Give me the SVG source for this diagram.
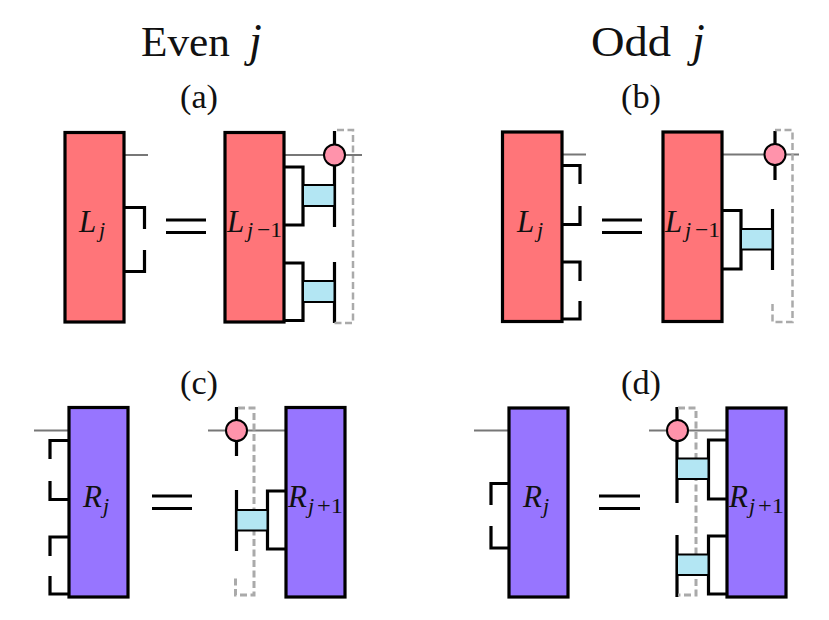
<svg xmlns="http://www.w3.org/2000/svg" width="829" height="620" viewBox="0 0 829 620">
<style>
text{font-family:"Liberation Serif",serif;fill:#111}
.t{font-size:43px}.ti{font-size:46px;font-style:italic}
.p{font-size:33px}
.m{font-size:31px;font-style:italic}
.s{font-size:22px;font-style:italic}
.n{font-size:22px}
.red{fill:#ff7579;stroke:#000;stroke-width:3.200}
.pur{fill:#9775ff;stroke:#000;stroke-width:3.200}
.blue{fill:#b3e6f3;stroke:#000;stroke-width:2}
.dot{fill:#ff93ab;stroke:#000;stroke-width:2}
.w{fill:none;stroke:#000;stroke-width:3.200}
.g{fill:none;stroke:#777;stroke-width:2}
.d{fill:none;stroke:#aaa;stroke-width:2.500;stroke-dasharray:7 3.500}
.dk{stroke-width:3}
</style>
<rect width="829" height="620" fill="#fff"/>
<g id="titles">
<text class="t" x="141" y="56" textLength="89" lengthAdjust="spacingAndGlyphs">Even</text><text class="ti" x="249" y="56">j</text>
<text class="t" x="591" y="56" textLength="80" lengthAdjust="spacingAndGlyphs">Odd</text><text class="ti" x="692" y="56">j</text>
<text class="p" x="180" y="108" textLength="38" lengthAdjust="spacingAndGlyphs">(a)</text>
<text class="p" x="621" y="108" textLength="40" lengthAdjust="spacingAndGlyphs">(b)</text>
<text class="p" x="180" y="394" textLength="38" lengthAdjust="spacingAndGlyphs">(c)</text>
<text class="p" x="621" y="394" textLength="40" lengthAdjust="spacingAndGlyphs">(d)</text>
</g>
<g id="connectors">
<path class="g" d="M124 155H148M284 155H362"/>
<path class="w" d="M124 207.500H144.500V229M144.500 250V271.500H124"/>
<path class="w" d="M284 167H303V225H284M284 263H303V320.500H284M334.500 131V227M334.500 262V323"/>
<path class="d" d="M334.500 323H353V130H336"/>
<path class="w" d="M166 220H206M166 232.500H206"/>
<path class="g" d="M562 154.500H586M722 154.500H799"/>
<path class="w" d="M562 165.500H580V184M580 206V224.500H562M562 262H580V281M580 301V319H562"/>
<path class="w" d="M722 210.500H741V269H722M772.500 209V270M775 131V180"/>
<path class="d" d="M772.500 304V322H792.500V130H775"/>
<path class="w" d="M602 220H642M602 232.500H642"/>
<path class="g" d="M34 430.500H69M208 430.500H286"/>
<path class="w" d="M69 440.500H50V459M50 481V499.500H69M69 537H50V556M50 576V594H69"/>
<path class="w" d="M286 491H267.500V549H286M236.500 407V456M236.500 490V551"/>
<path class="d dk" d="M238 408H254V595H235.500V577"/>
<path class="w" d="M152 496H192M152 508.500H192"/>
<path class="g" d="M474 430.500H509M649 430.500H727"/>
<path class="w" d="M509 483.500H491V505M491 526V548H509"/>
<path class="w" d="M727 440H708.500V499H727M727 536H708.500V594H727M677 407V503M677 535V597"/>
<path class="d dk" d="M678 408H696V595H678"/>
<path class="w" d="M599 496H640M599 508.500H640"/>
</g>
<g id="a-left"><rect class="red" x="65" y="132.500" width="59" height="189.500"/><text class="m" x="79" y="231.500">L</text><text class="s" x="99" y="237">j</text></g>
<g id="a-right"><rect class="red" x="225" y="132.500" width="59" height="189.500"/><text class="m" x="227" y="231.500">L</text><text class="s" x="247" y="237">j</text><text class="n" x="257" y="237" textLength="25" lengthAdjust="spacingAndGlyphs">−1</text></g>
<g id="a-gate1"><rect class="blue" x="303" y="185" width="31.500" height="21"/></g>
<g id="a-gate2"><rect class="blue" x="303" y="281" width="31.500" height="21"/></g>
<g id="a-dot"><circle class="dot" cx="334.500" cy="155" r="10.500"/></g>
<g id="b-left"><rect class="red" x="502.500" y="132" width="59.500" height="189.500"/><text class="m" x="517" y="231.500">L</text><text class="s" x="537" y="237">j</text></g>
<g id="b-right"><rect class="red" x="663" y="132" width="59" height="189.500"/><text class="m" x="665" y="231.500">L</text><text class="s" x="685" y="237">j</text><text class="n" x="695" y="237" textLength="25" lengthAdjust="spacingAndGlyphs">−1</text></g>
<g id="b-gate"><rect class="blue" x="741" y="229" width="31.500" height="20.500"/></g>
<g id="b-dot"><circle class="dot" cx="775" cy="154.500" r="10.500"/></g>
<g id="c-left"><rect class="pur" x="69" y="407.500" width="59" height="189.500"/><text class="m" x="83" y="507">R</text><text class="s" x="103" y="513">j</text></g>
<g id="c-right"><rect class="pur" x="286" y="407.500" width="59" height="189.500"/><text class="m" x="288" y="507">R</text><text class="s" x="308" y="513">j</text><text class="n" x="317" y="513" textLength="26" lengthAdjust="spacingAndGlyphs">+1</text></g>
<g id="c-gate"><rect class="blue" x="236.500" y="510" width="31" height="20.500"/></g>
<g id="c-dot"><circle class="dot" cx="236.500" cy="430.500" r="10.500"/></g>
<g id="d-left"><rect class="pur" x="509" y="408" width="59" height="189"/><text class="m" x="523" y="507">R</text><text class="s" x="543" y="513">j</text></g>
<g id="d-right"><rect class="pur" x="727" y="408" width="59" height="189"/><text class="m" x="729" y="507">R</text><text class="s" x="749" y="513">j</text><text class="n" x="758" y="513" textLength="26" lengthAdjust="spacingAndGlyphs">+1</text></g>
<g id="d-gate1"><rect class="blue" x="677" y="458.500" width="31.500" height="20.500"/></g>
<g id="d-gate2"><rect class="blue" x="677" y="554.500" width="31.500" height="20.500"/></g>
<g id="d-dot"><circle class="dot" cx="677.500" cy="430.500" r="10.500"/></g>
</svg>
